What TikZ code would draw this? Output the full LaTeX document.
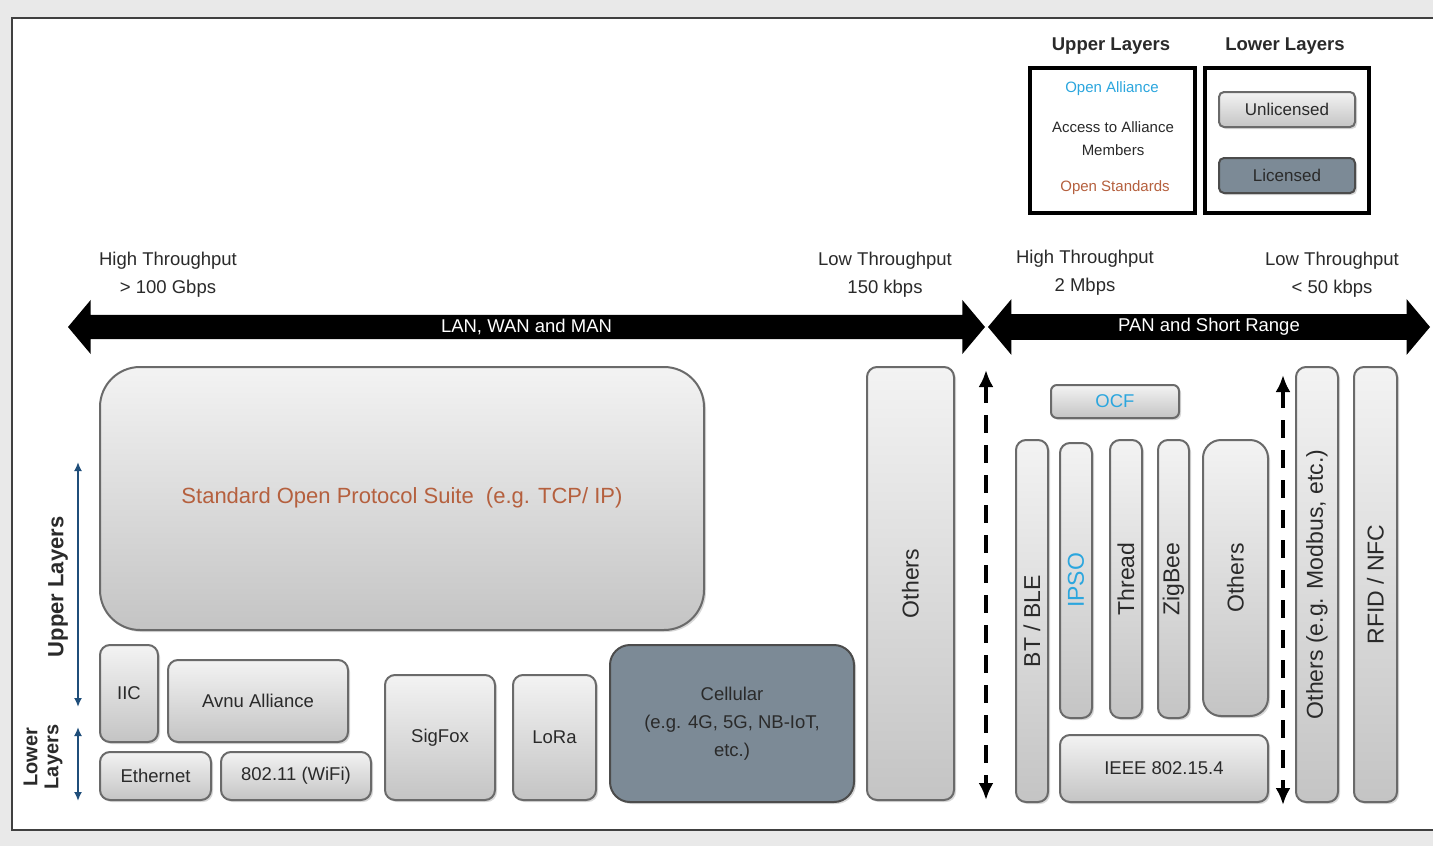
\documentclass[tikz,border=0pt]{standalone}
\usepackage{fontspec}
\setmainfont{Liberation Sans}
\usetikzlibrary{fit,shapes.arrows,shadows,arrows.meta}

\definecolor{boxtop}{HTML}{F3F3F3}
\definecolor{boxbot}{HTML}{C4C4C4}
\definecolor{boxline}{HTML}{6A6A6A}
\definecolor{slate}{HTML}{7C8A96}
\definecolor{rust}{HTML}{B5603E}
\definecolor{sky}{HTML}{2BA6DE}
\definecolor{layerblue}{HTML}{1F4E7A}
\definecolor{framebg}{HTML}{E9E9E9}
\definecolor{ink}{HTML}{2A2A2A}

\newcommand\lblfont{\fontsize{18.5}{28}\selectfont}
\newcommand\vfont{\fontsize{23}{26}\selectfont}
\newcommand\legfont{\fontsize{15}{23}\selectfont}

\tikzset{
  lightbox/.style={draw=boxline, line width=2pt, rounded corners=10pt,
    top color=boxtop, bottom color=boxbot, inner sep=0pt,
    drop shadow={shadow xshift=2pt, shadow yshift=-2pt, opacity=.3}},
  darkbox/.style={lightbox, top color=slate, bottom color=slate, draw=black!70},
  boxlbl/.style={font=\lblfont, text=ink, align=center},
  legendframe/.style={draw=black, line width=3.5pt, inner sep=0pt},
  vlbl/.style={rotate=90, font=\vfont, text=ink},
  bigarrow/.style={double arrow, fill=black, text=white, inner xsep=0pt,
    inner ysep=4pt, double arrow head extend=15pt,
    double arrow tip angle=100, font=\lblfont},
  layerarrow/.style={draw=layerblue, line width=2pt,
    {Latex[length=9pt,width=8pt]}-{Latex[length=9pt,width=8pt]}},
  dasharrow/.style={draw=black, line width=3.5pt, dash pattern=on 18pt off 12pt,
    {Latex[length=17pt,width=15pt]}-{Latex[length=17pt,width=15pt]}},
}

\begin{document}
\begin{tikzpicture}[x=1pt,y=-1pt]
\useasboundingbox (0,0) rectangle (1433,846);
\fill[framebg] (0,0) rectangle (1433,846);
\draw[black!75, fill=white, line width=1.5pt] (12,18) rectangle (1445,830);

% legend
\node[font=\fontsize{18.5}{22}\selectfont\bfseries, text=ink] (uplegt) at (1111,46) {Upper Layers};
\node[font=\fontsize{18.5}{22}\selectfont\bfseries, text=ink] (lowlegt) at (1285,46) {Lower Layers};
\node[legendframe, fit={(1030,68) (1195,213)}] (upleg) {};
\node[legendframe, fit={(1205,68) (1369,213)}] (lowleg) {};
\node[font=\legfont, text=sky] (openall) at (1112,89) {Open Alliance};
\node[font=\legfont, text=ink, align=center] (members) at (1113,139) {Access to Alliance\\Members};
\node[font=\legfont, text=rust] (openstd) at (1115,188) {Open Standards};
\node[lightbox, rounded corners=5pt, fit={(1219,92) (1355,127)}] (unlic) {};
\node[darkbox, rounded corners=5pt, fit={(1219,158) (1355,193)}] (lic) {};
\node[boxlbl, font=\fontsize{17}{20}\selectfont] (unlict) at (unlic) {Unlicensed};
\node[boxlbl, font=\fontsize{17}{20}\selectfont] (lict) at (lic) {Licensed};

% throughput labels
\node[font=\lblfont, align=center, text=ink] (hileft) at (168,275) {High Throughput\\> 100 Gbps};
\node[font=\lblfont, align=center, text=ink] (loleft) at (885,275) {Low Throughput\\150 kbps};
\node[font=\lblfont, align=center, text=ink] (hiright) at (1085,273) {High Throughput\\2 Mbps};
\node[font=\lblfont, align=center, text=ink] (loright) at (1332,275) {Low Throughput\\< 50 kbps};

% range arrows
\node[bigarrow, minimum height=917pt] (lanarrow) at (526.5,327) {LAN, WAN and MAN};
\node[bigarrow, minimum height=442pt] (panarrow) at (1209,327) {PAN and Short Range};

% layer markers
\coordinate (uptop) at (78,462);
\coordinate (upbot) at (78,707);
\coordinate (lowtop) at (78,727);
\coordinate (lowbot) at (78,801);
\draw[layerarrow] (uptop) -- (upbot);
\draw[layerarrow] (lowtop) -- (lowbot);
\node[rotate=90, font=\fontsize{22}{24}\selectfont\bfseries, text=ink] (uplbl) at (58,587) {Upper Layers};
\node[rotate=90, align=center, font=\fontsize{20}{21}\selectfont\bfseries, text=ink] (lowlbl) at (43,757) {Lower\\Layers};

% LAN, WAN and MAN
\node[lightbox, rounded corners=40pt, fit={(100,367) (704,630)}] (tcp) {};
\node[lightbox, fit={(100,645) (158,742)}] (iic) {};
\node[lightbox, fit={(168,660) (348,742)}] (avnu) {};
\node[lightbox, fit={(100,752) (211,800)}] (eth) {};
\node[lightbox, fit={(221,752) (371,800)}] (wifi) {};
\node[lightbox, fit={(385,675) (495,800)}] (sigfox) {};
\node[lightbox, fit={(513,675) (596,800)}] (lora) {};
\node[darkbox, rounded corners=20pt, fit={(610,645) (854,802)}] (cell) {};
\node[lightbox, fit={(867,367) (954,800)}] (othlan) {};
\node[boxlbl, text=rust, font=\fontsize{22}{26}\selectfont] (tcpt) at (402,498) {Standard Open Protocol Suite\ \ (e.g. TCP/ IP)};
\node[boxlbl] (iict) at (iic) {IIC};
\node[boxlbl] (avnut) at (avnu) {Avnu Alliance};
\node[boxlbl] (etht) at (eth) {Ethernet};
\node[boxlbl] (wifit) at (wifi) {802.11 (WiFi)};
\node[boxlbl] (sigfoxt) at (sigfox) {SigFox};
\node[boxlbl] (lorat) at (lora) {LoRa};
\node[boxlbl] (cellt) at (cell) {Cellular\\(e.g. 4G, 5G, NB-IoT,\\etc.)};
\node[vlbl] (othlant) at (othlan) {Others};

% PAN and short range
\coordinate (pantop) at (986,370);
\coordinate (panbot) at (986,800);
\draw[dasharrow] (pantop) -- (panbot);
\coordinate (srtop) at (1283,375);
\coordinate (srbot) at (1283,805);
\draw[dasharrow] (srtop) -- (srbot);

\node[lightbox, rounded corners=6pt, fit={(1051,385) (1179,418)}] (ocf) {};
\node[lightbox, fit={(1016,440) (1048,802)}] (bt) {};
\node[lightbox, fit={(1060,443) (1092,718)}] (ipso) {};
\node[lightbox, fit={(1110,440) (1142,718)}] (thread) {};
\node[lightbox, fit={(1158,440) (1189,718)}] (zigbee) {};
\node[lightbox, rounded corners=18pt, fit={(1203,440) (1268,716)}] (othpan) {};
\node[lightbox, fit={(1060,735) (1268,802)}] (ieee) {};
\node[lightbox, fit={(1296,367) (1338,802)}] (modbus) {};
\node[lightbox, fit={(1354,367) (1397,802)}] (rfid) {};
\node[boxlbl, text=sky] (ocft) at (ocf) {OCF};
\node[boxlbl] (ieeet) at (ieee) {IEEE 802.15.4};
\node[vlbl] (btt) at (bt) {BT / BLE};
\node[vlbl, text=sky] (ipsot) at (ipso) {IPSO};
\node[vlbl] (threadt) at (thread) {Thread};
\node[vlbl] (zigbeet) at (zigbee) {ZigBee};
\node[vlbl] (othpant) at (othpan) {Others};
\node[vlbl] (modbust) at (modbus) {Others (e.g. Modbus, etc.)};
\node[vlbl] (rfidt) at (rfid) {RFID / NFC};
\end{tikzpicture}
\end{document}
